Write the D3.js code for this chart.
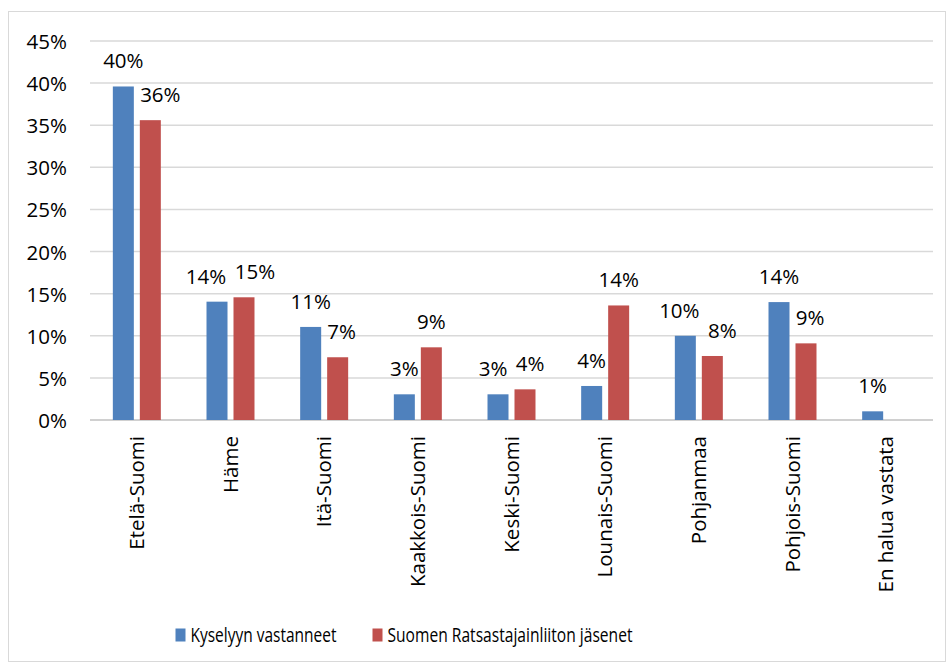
<!DOCTYPE html>
<html>
<head>
<meta charset="utf-8">
<script src="https://cdn.jsdelivr.net/npm/d3@7"></script>
<style>
  body { margin: 0; background: #fff; }
  text { font-family: "Open Sans", sans-serif; fill: #000; }
</style>
</head>
<body>
<script>
const width = 950;
const height = 666;
const marginTop = 41;
const marginRight = 17;
const marginBottom = 246;
const marginLeft = 90;

const regions = ["Etelä-Suomi", "Häme", "Itä-Suomi", "Kaakkois-Suomi", "Keski-Suomi",
  "Lounais-Suomi", "Pohjanmaa", "Pohjois-Suomi", "En halua vastata"];
const seriesNames = ["Kyselyyn vastanneet", "Suomen Ratsastajainliiton jäsenet"];
const respondents = [0.396, 0.1405, 0.1105, 0.0305, 0.0305, 0.0404, 0.100, 0.140, 0.0103];
const members = [0.356, 0.1457, 0.0745, 0.0863, 0.0364, 0.136, 0.076, 0.091, 0];
const yTicks = [0, 0.05, 0.10, 0.15, 0.20, 0.25, 0.30, 0.35, 0.40, 0.45];
const colors = ["#4f81bd", "#c0504d"];

const svg = d3.select("body").append("svg")
    .attr("width", width)
    .attr("height", height);

//outer frame
svg.append("rect")
    .attr("x", 8.5).attr("y", 11.5)
    .attr("width", 937).attr("height", 650)
    .attr("fill", "none")
    .attr("stroke", "#d9d9d9")
    .attr("stroke-width", 1);

const x0 = d3.scaleBand()
    .domain(regions)
    .range([marginLeft, width - marginRight]);

const x1 = d3.scaleBand()
    .domain([0, 1])
    .range([0, x0.bandwidth()])
    .paddingInner(0.222)
    .paddingOuter(0.846);

const y = d3.scaleLinear()
    .domain([0, 0.45])
    .range([height - marginBottom, marginTop]);

//gridlines
svg.append("g")
  .selectAll("line")
  .data(yTicks)
  .join("line")
    .attr("x1", marginLeft)
    .attr("x2", width - marginRight)
    .attr("y1", d => y(d))
    .attr("y2", d => y(d))
    .attr("stroke", d => d === 0 ? "#d0d0d0" : "#d9d9d9")
    .attr("stroke-width", d => d === 0 ? 2 : 1.5);

//y tick labels
svg.append("g")
  .selectAll("text")
  .data(yTicks)
  .join("text")
    .attr("x", 67)
    .attr("y", d => y(d) + 8)
    .attr("text-anchor", "end")
    .style("font-size", "20.5px")
    .text(d => Math.round(d * 100) + "%");

const rows = regions.map((r, i) => ({ region: r, values: [respondents[i], members[i]] }));

//bars
const groups = svg.append("g")
  .selectAll("g")
  .data(rows)
  .join("g")
    .attr("transform", d => `translate(${x0(d.region)},0)`);

groups.selectAll("rect")
  .data(d => d.values.map((v, k) => ({ v, k })).filter(e => e.v > 0))
  .join("rect")
    .attr("x", e => x1(e.k))
    .attr("width", x1.bandwidth())
    .attr("y", e => y(e.v))
    .attr("height", e => y(0) - y(e.v))
    .attr("fill", e => colors[e.k]);

//data labels with simple overlap avoidance
const fmt = v => Math.round(v * 100) + "%";
const textW = s => [...s].reduce((a, c) => a + (c === "%" ? 17 : 12), 0);
const labelLayer = svg.append("g");
rows.forEach(d => {
  const gx = x0(d.region);
  const labels = d.values.map((v, k) => {
    if (v <= 0) return null;
    const w = textW(fmt(v));
    return { k, v, w, cx: gx + x1(k) + x1.bandwidth() / 2, base: y(v) - 18 };
  });
  const [b, r] = labels;
  const pad = 6;
  if (b && r) {
    // red label must clear the blue bar
    const bBarRight = gx + x1(0) + x1.bandwidth();
    const rLeft = r.cx - r.w / 2;
    if (r.base > y(b.v) - 2 && rLeft < bBarRight + pad) r.cx = bBarRight + pad + r.w / 2;
    // labels must clear each other
    if (Math.abs(r.base - b.base) < 22) {
      const need = (b.w + r.w) / 2 + 8;
      const dist = r.cx - b.cx;
      if (dist < need) {
        const s = (need - dist) / 2;
        b.cx -= s; r.cx += s;
      }
    }
  }
  labels.filter(Boolean).forEach(l => {
    labelLayer.append("text")
      .attr("x", l.cx)
      .attr("y", l.base)
      .attr("text-anchor", "middle")
      .style("font-size", "20.5px")
      .text(fmt(l.v));
  });
});

//category labels
svg.append("g")
  .selectAll("text")
  .data(regions)
  .join("text")
    .attr("transform", d => `translate(${x0(d) + x0.bandwidth() / 2 + 7},436) rotate(-90)`)
    .attr("text-anchor", "end")
    .style("font-size", "20.5px")
    .text(d => d);

//legend
const legendX = [175.5, 372.5];
const legendW = [146, 245];
const legend = svg.append("g")
  .selectAll("g")
  .data(seriesNames)
  .join("g")
    .attr("transform", (d, i) => `translate(${legendX[i]},0)`);

legend.append("rect")
    .attr("x", 0).attr("y", 628.5)
    .attr("width", 10).attr("height", 13)
    .attr("fill", (d, i) => colors[i]);

legend.append("text")
    .attr("x", 15)
    .attr("y", 642)
    .attr("textLength", (d, i) => legendW[i])
    .attr("lengthAdjust", "spacingAndGlyphs")
    .style("font-size", "20.5px")
    .text(d => d);
</script>
</body>
</html>
